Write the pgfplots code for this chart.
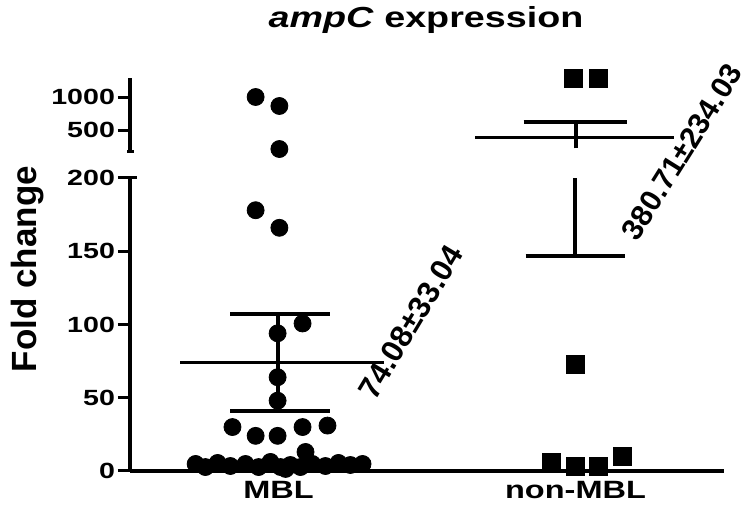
\documentclass[border=0pt]{standalone}
\usepackage{fontspec}
\setmainfont{Liberation Sans}[FakeStretch=1.3]
\newfontfamily\plainfont{Liberation Sans}
\usepackage{pgfplots}
\pgfplotsset{compat=1.18}
\pgfplotsset{
  common/.style={
    scale only axis, width=297pt, xmin=0.5, xmax=2.5, clip=false,
    axis line style={-, line width=2pt, black},
    tick align=outside, major tick length=6pt,
    ytick style={line width=1.5pt, black},
    xtick style={draw=none},
    yticklabel style={font=\bfseries\fontsize{11}{12}\selectfont, xshift=2pt},
    xticklabel style={font=\bfseries\fontsize{12.5}{14}\selectfont},
  },
  circ/.style={only marks, mark=*, mark size=4.25pt, black, mark options={fill=black, draw=black}},
  sq/.style={only marks, mark=square*, mark size=4.5pt, black, mark options={fill=black, draw=black}},
}
\begin{document}
\begin{tikzpicture}
\path[use as bounding box] (0,0) rectangle (375pt,257pt);
% lower segment
\begin{axis}[common, at={(65pt,21.5pt)}, anchor=south west, height=146.5pt,
  ymin=0, ymax=200, ytick={0,50,100,150,200}, yticklabels={0,50,100,150,200},
  axis x line*=bottom, axis y line*=left,
  xtick={1,2}, xticklabels={MBL,non-MBL},
  xticklabel style={yshift=4.5pt}]
\addplot[circ] coordinates {
 (0.923,178) (1.003,166) (1.081,100.7) (0.997,94) (0.997,64) (0.997,48)
 (0.845,30) (0.923,24) (0.997,24) (1.081,30) (1.165,31) (1.091,13)
 (0.721,4.8) (0.754,2.7) (0.795,5.5) (0.838,3.4) (0.889,4.8) (0.933,2.7)
 (0.973,6.2) (1.007,2.7) (1.040,4.1) (1.074,2.7) (1.114,4.8) (1.158,3.4)
 (1.202,5.5) (1.242,4.1) (1.283,4.8) (1.024,1.4)
};
\addplot[sq] coordinates {
 (2.000,73) (1.919,6) (2.000,3) (2.077,3) (2.158,10)
};
% MBL mean and SEM
\addplot[line width=1.5pt] coordinates {(0.670,74.08) (1.354,74.08)};
\addplot[line width=2pt] coordinates {(0.838,107.12) (1.175,107.12)};
\addplot[line width=2pt] coordinates {(0.838,41.04) (1.175,41.04)};
\addplot[line width=2pt] coordinates {(1.0,41.04) (1.0,107.12)};
% non-MBL lower SEM part
\addplot[line width=2pt] coordinates {(1.832,146.68) (2.168,146.68)};
\addplot[line width=2pt] coordinates {(2.0,146.68) (2.0,200)};
% segment cap
\addplot[line width=1.5pt] coordinates {(0.5,200) (0.524,200)};
\end{axis}
% upper segment
\begin{axis}[common, at={(65pt,181pt)}, anchor=south west, height=37pt,
  ymin=167, ymax=1288, ytick={500,1000}, yticklabels={500,1000},
  axis x line=none, axis y line*=left]
\addplot[circ] coordinates {(0.923,1000) (1.003,864) (1.003,212)};
\addplot[sq] coordinates {(1.993,1280) (2.077,1280)};
\addplot[line width=1.5pt] coordinates {(1.663,380.71) (2.330,380.71)};
\addplot[line width=2pt] coordinates {(1.825,614.74) (2.175,614.74)};
\addplot[line width=2pt] coordinates {(2.0,220) (2.0,614.74)};
\addplot[line width=1.5pt] coordinates {(0.49,167) (0.513,167)};
\end{axis}
% texts
\node[font=\bfseries\fontsize{14.5}{16}\selectfont] at (213pt,247pt) {\textit{ampC} expression};
\node[font=\plainfont\bfseries\fontsize{17.5}{20}\selectfont, rotate=90] at (14pt,122.5pt) {Fold change};
\node[font=\plainfont\bfseries\fontsize{15.5}{17}\selectfont, rotate=59] at (205.5pt,96pt) {74.08±33.04};
\node[font=\plainfont\bfseries\fontsize{15}{17}\selectfont, rotate=58] at (341pt,181pt) {380.71±234.03};
\end{tikzpicture}
\end{document}
